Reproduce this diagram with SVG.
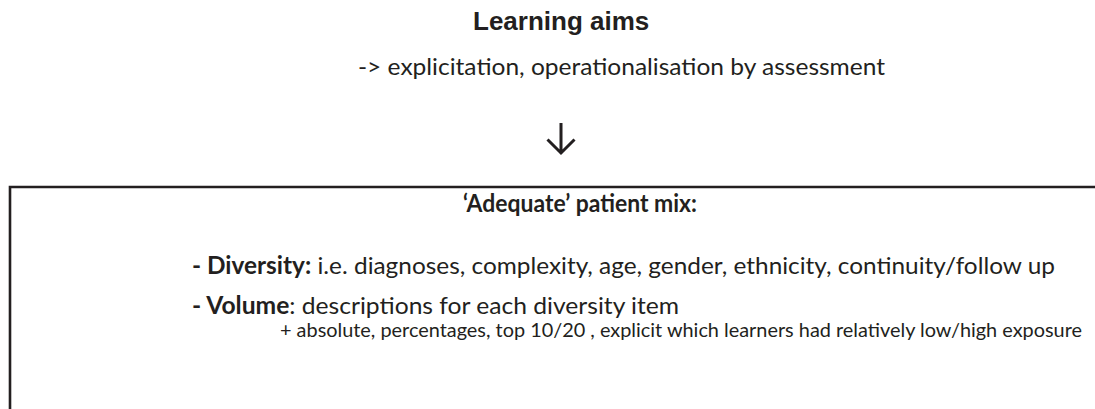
<svg xmlns="http://www.w3.org/2000/svg" width="1095" height="409" viewBox="0 0 1095 409" xml:space="preserve">
<style>
.bg{fill:#ffffff}
.t{fill:#231f20;font-family:Lato,"Open Sans","Liberation Sans",sans-serif;font-size:24px}
.h{fill:#231f20;font-family:"Liberation Sans",Arial,sans-serif;font-size:26px;font-weight:bold}
.b{font-weight:bold}
.s{font-size:20px}
.edge{fill:none;stroke:#231f20;stroke-width:3;stroke-linecap:butt;stroke-linejoin:miter}
.frame{fill:none;stroke:#231f20;stroke-width:2.6}
</style>
<rect class="bg" x="0" y="0" width="1095" height="409"/>
<g id="learning-aims">
<text class="h" x="473" y="30">Learning aims</text>
<text class="t" x="358" y="75" textLength="527" lengthAdjust="spacingAndGlyphs">-&gt;  explicitation, operationalisation by assessment</text>
</g>
<g id="connectors">
<path class="edge" d="M561 123 V153 M547.5 139.5 L561 153 L574.5 139.5"/>
</g>
<g id="patient-mix">
<path class="frame" d="M10 409 V187 H1095"/>
<text class="t b" x="463" y="212" textLength="234" lengthAdjust="spacingAndGlyphs">‘Adequate’ patient mix:</text>
<text class="t" x="192" y="274" textLength="863" lengthAdjust="spacingAndGlyphs"><tspan class="b">- Diversity:</tspan> i.e. diagnoses, complexity, age, gender, ethnicity, continuity/follow up</text>
<text class="t" x="192" y="314" textLength="487" lengthAdjust="spacingAndGlyphs"><tspan class="b">- Volume</tspan>:  descriptions for each diversity item</text>
<text class="t s" x="280" y="337" textLength="802" lengthAdjust="spacingAndGlyphs">+ absolute, percentages, top 10/20 , explicit which learners had relatively low/high exposure</text>
</g>
</svg>
